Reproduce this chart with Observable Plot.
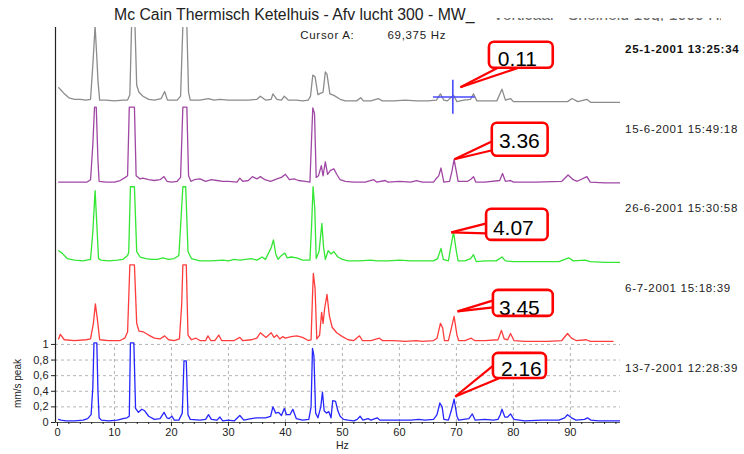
<!DOCTYPE html>
<html><head><meta charset="utf-8">
<script src="https://cdn.jsdelivr.net/npm/d3@7"></script>
<script src="https://cdn.jsdelivr.net/npm/@observablehq/plot@0.6"></script>
<style>
body{margin:0;background:#fff;font-family:"Liberation Sans",Arial,sans-serif;}
#head{position:relative;height:22px;width:744px;overflow:visible;}
#title{position:absolute;left:114px;top:7px;font-size:15.8px;line-height:16px;color:#222;white-space:nowrap;}
#ghost{position:absolute;left:493px;top:18px;height:3px;width:228px;overflow:hidden;}
#ghost span{display:block;margin-top:-11px;font-size:15.8px;line-height:16px;color:#666;white-space:nowrap;}
#chart svg{display:block;}
</style></head>
<body>
<div id="head"><div id="title">Mc Cain Thermisch Ketelhuis - Afv lucht 300 - MW_</div><div id="ghost"><span>Verticaal - Snelheid 10q, 1000 Hz</span></div></div>
<div id="chart"></div>
<script>
// ---------- data (Hz, mm/s peak) ----------
const dates = ["25-1-2001 13:25:34","15-6-2001 15:49:18","26-6-2001 15:30:58","6-7-2001 15:18:39","13-7-2001 12:28:39"];
const calloutLabels = ["0.11","3.36","4.07","3.45","2.16"];
const cursorHz = 69.375;
const xTicks = [0,10,20,30,40,50,60,70,80,90];
const xMinorTicks = [2,4,6,8,12,14,16,18,22,24,26,28,32,34,36,38,42,44,46,48,52,54,56,58,62,64,66,68,72,74,76,78,82,84,86,88,92,94,96,98];
const yTicks = [0,0.2,0.4,0.6,0.8,1];

const trace25jan = [[0.2,0.21],[0.6,0.18],[1.2,0.13],[2,0.08],[3,0.06],[4,0.06],[5,0.05],[5.8,0.06],[6.2,0.5],[6.6,1.0],[6.9,0.6],[7.1,0.3],[7.4,0.05],[8.5,0.05],[10,0.04],[11.5,0.05],[12.3,0.05],[12.7,0.12],[13.0,1.0],[13.6,1.0],[13.9,0.24],[14.3,0.15],[15,0.1],[16,0.06],[17,0.05],[18.2,0.07],[18.8,0.16],[19.3,0.05],[20,0.05],[21,0.05],[21.6,0.1],[22.0,1.0],[22.7,1.0],[23.0,0.15],[23.3,0.05],[25,0.05],[26.5,0.07],[27.5,0.05],[28.5,0.06],[30,0.05],[32,0.05],[33.5,0.05],[35,0.06],[35.6,0.1],[36.5,0.05],[37.5,0.06],[37.8,0.13],[38.5,0.06],[39.3,0.05],[39.8,0.1],[40.5,0.05],[42,0.05],[43,0.04],[44,0.05],[44.4,0.1],[44.8,0.37],[45.2,0.35],[45.7,0.12],[46.2,0.14],[46.6,0.15],[47.0,0.41],[47.3,0.38],[47.8,0.13],[48.5,0.11],[49.6,0.06],[50.5,0.04],[52.5,0.04],[53.2,0.08],[53.7,0.04],[55,0.04],[56.3,0.07],[57,0.04],[59,0.04],[61,0.05],[63,0.04],[65,0.04],[66.5,0.05],[67.2,0.13],[67.8,0.05],[68.4,0.04],[69.0,0.08],[69.5,0.11],[70.1,0.03],[71.3,0.05],[72.5,0.06],[73.0,0.13],[73.6,0.04],[75,0.04],[77.1,0.04],[78.0,0.19],[78.6,0.05],[79.5,0.07],[80,0.03],[82,0.03],[86,0.03],[89.5,0.03],[90.3,0.07],[91.3,0.03],[92.9,0.06],[93.6,0.02],[96,0.02],[98.8,0.02]];

const trace15jun = [[0.2,0.02],[2,0.02],[4,0.02],[5.2,0.02],[5.8,0.05],[6.2,0.5],[6.5,0.98],[6.8,0.98],[7.1,0.3],[7.3,0.03],[8.5,0.02],[10,0.02],[11,0.04],[11.9,0.08],[12.3,0.1],[12.6,0.98],[13.5,0.98],[13.8,0.1],[14.5,0.06],[15,0.07],[16,0.05],[17,0.04],[18,0.05],[18.7,0.09],[19.2,0.03],[20,0.02],[21,0.03],[21.6,0.08],[22.0,0.98],[22.7,0.98],[23.0,0.1],[23.4,0.03],[24,0.05],[25,0.06],[26,0.03],[27,0.05],[28,0.04],[29,0.03],[30,0.03],[31.5,0.02],[32,0.07],[32.5,0.03],[33.5,0.04],[34.2,0.09],[35,0.06],[35.6,0.09],[36.4,0.05],[37.4,0.03],[38.5,0.06],[39.3,0.08],[40.0,0.12],[40.7,0.05],[41.5,0.06],[42.3,0.04],[43.5,0.03],[44.3,0.02],[44.6,0.6],[44.8,0.97],[45.1,0.9],[45.4,0.08],[45.8,0.1],[46.3,0.23],[46.6,0.1],[47.0,0.28],[47.4,0.12],[47.9,0.17],[48.5,0.19],[49.0,0.12],[49.6,0.05],[50.5,0.03],[52,0.02],[54,0.02],[55.5,0.05],[56,0.02],[57.5,0.04],[58,0.02],[60,0.03],[62,0.02],[63,0.04],[64,0.02],[66,0.02],[66.4,0.06],[66.9,0.1],[67.3,0.2],[67.8,0.02],[68.8,0.03],[69.2,0.15],[69.6,0.31],[70.0,0.15],[70.3,0.03],[72,0.03],[72.6,0.06],[73.0,0.09],[73.4,0.02],[75,0.02],[77.6,0.04],[78.1,0.13],[78.6,0.03],[79.5,0.04],[80,0.02],[84,0.02],[88.5,0.03],[89.6,0.11],[90.5,0.05],[91.2,0.03],[92.9,0.09],[93.5,0.02],[96,0.01],[98.8,0.01]];

const trace26jun = [[0.2,0.16],[0.8,0.13],[1.7,0.06],[3,0.04],[4.5,0.03],[5.8,0.05],[6.2,0.4],[6.6,0.93],[6.9,0.5],[7.2,0.06],[7.6,0.04],[9,0.03],[10.5,0.04],[11.5,0.05],[12.3,0.1],[12.5,0.14],[12.8,0.98],[13.5,0.98],[13.9,0.15],[14.5,0.08],[15.5,0.06],[16.5,0.05],[17.5,0.05],[18.5,0.07],[19.5,0.05],[20.5,0.06],[21.3,0.1],[21.7,0.6],[22.0,0.98],[22.5,0.98],[22.9,0.15],[23.5,0.06],[25,0.03],[27,0.03],[29,0.04],[30,0.03],[31,0.05],[32,0.04],[33,0.05],[34,0.06],[35,0.04],[35.9,0.08],[36.5,0.05],[37.5,0.2],[37.9,0.3],[38.3,0.12],[38.7,0.05],[39.3,0.1],[39.9,0.13],[40.3,0.07],[41,0.08],[42,0.07],[43,0.04],[44.3,0.04],[44.6,0.5],[44.85,0.98],[45.15,0.7],[45.4,0.06],[45.9,0.15],[46.4,0.51],[46.7,0.2],[47.0,0.05],[47.5,0.16],[48,0.12],[48.5,0.15],[49.2,0.08],[50,0.05],[51,0.03],[53,0.03],[55,0.04],[56,0.03],[58,0.03],[60,0.04],[62,0.03],[64,0.03],[66,0.03],[66.7,0.06],[67.3,0.19],[67.7,0.05],[68.6,0.03],[69.0,0.2],[69.5,0.4],[70.0,0.15],[70.3,0.03],[71.5,0.03],[72.5,0.06],[73.0,0.11],[73.5,0.02],[75,0.03],[77,0.03],[78.0,0.08],[78.6,0.03],[80,0.02],[84,0.02],[88,0.02],[89.7,0.07],[90.5,0.03],[92.6,0.04],[93.5,0.02],[96,0.01],[98.8,0.01]];

const trace6jul = [[0.2,0.05],[0.5,0.11],[1.2,0.04],[3,0.03],[5,0.04],[5.8,0.05],[6.3,0.25],[6.65,0.5],[7.0,0.3],[7.4,0.04],[9,0.03],[11,0.03],[11.8,0.06],[12.3,0.14],[12.7,1.0],[13.5,1.0],[13.9,0.25],[14.3,0.15],[15.1,0.14],[16,0.1],[17,0.06],[18,0.05],[18.8,0.09],[19.5,0.04],[20.5,0.03],[21.4,0.05],[21.8,0.5],[22.0,1.0],[22.6,1.0],[22.9,0.1],[23.5,0.04],[24.3,0.06],[25,0.03],[26,0.03],[26.4,0.09],[26.9,0.03],[27.6,0.03],[28.3,0.1],[28.8,0.03],[31,0.03],[32,0.07],[32.5,0.03],[34,0.04],[35,0.06],[35.6,0.13],[36.6,0.07],[37.5,0.13],[38,0.07],[38.5,0.1],[39,0.05],[39.5,0.08],[40,0.06],[41,0.08],[42,0.09],[43,0.07],[44,0.03],[44.5,0.04],[44.75,0.6],[44.9,0.89],[45.2,0.7],[45.5,0.05],[46.0,0.1],[46.35,0.39],[46.6,0.25],[46.9,0.45],[47.3,0.62],[47.7,0.35],[48.2,0.2],[49,0.13],[50,0.08],[51,0.04],[52,0.03],[53,0.09],[53.5,0.03],[55,0.03],[56.5,0.06],[57,0.03],[59,0.03],[61,0.02],[63,0.03],[64,0.02],[66,0.03],[66.6,0.06],[67.2,0.25],[67.6,0.19],[67.9,0.03],[68.6,0.03],[69.0,0.15],[69.6,0.34],[70.1,0.1],[70.4,0.03],[71.5,0.03],[72.6,0.06],[73.2,0.03],[75,0.03],[77.3,0.04],[77.9,0.16],[78.4,0.05],[79,0.04],[79.5,0.12],[80.1,0.03],[82,0.02],[86,0.02],[88.5,0.03],[89.5,0.12],[90.2,0.06],[91,0.03],[92.8,0.04],[93.5,0.02],[95,0.02],[97.5,0.02]];

const trace13jul = [[0.2,0.04],[0.6,0.03],[1.5,0.02],[3,0.02],[4.5,0.03],[5.3,0.05],[5.9,0.1],[6.2,0.45],[6.4,1.02],[6.9,1.02],[7.1,0.4],[7.3,0.06],[7.7,0.03],[9,0.02],[10.5,0.03],[11.5,0.05],[12.2,0.06],[12.6,0.08],[12.8,1.02],[13.4,1.02],[13.7,0.18],[14.2,0.13],[14.8,0.17],[15.3,0.15],[16,0.08],[17,0.04],[18,0.05],[18.7,0.13],[19.2,0.06],[19.6,0.05],[20.1,0.08],[20.5,0.03],[21.3,0.03],[21.9,0.12],[22.2,0.79],[22.6,0.79],[22.9,0.1],[23.3,0.04],[25,0.03],[26,0.04],[26.5,0.1],[27,0.04],[28,0.03],[28.5,0.07],[29,0.02],[30,0.03],[31,0.02],[32,0.09],[32.7,0.03],[34,0.05],[35,0.06],[36.5,0.06],[37.4,0.08],[37.8,0.2],[38.3,0.12],[38.8,0.13],[39.3,0.09],[39.8,0.18],[40.2,0.1],[40.8,0.1],[41.3,0.17],[41.9,0.05],[43,0.03],[44.1,0.04],[44.5,0.2],[44.75,0.95],[45.0,0.85],[45.3,0.12],[45.7,0.06],[46.2,0.2],[46.5,0.39],[46.8,0.15],[47.2,0.12],[47.6,0.14],[48,0.06],[48.3,0.28],[48.8,0.27],[49.2,0.15],[49.6,0.08],[50.2,0.04],[51,0.03],[52,0.02],[52.6,0.04],[53.1,0.08],[53.6,0.03],[54.5,0.05],[55,0.03],[56.1,0.06],[56.6,0.03],[58,0.03],[60,0.03],[62,0.03],[63.4,0.04],[64.5,0.03],[66,0.04],[66.6,0.1],[67.1,0.25],[67.5,0.2],[67.8,0.04],[68.6,0.03],[69.1,0.15],[69.6,0.3],[70.1,0.08],[70.4,0.03],[71.3,0.04],[72.2,0.05],[72.8,0.11],[73.3,0.03],[75,0.04],[76.5,0.03],[77.3,0.04],[77.7,0.1],[78.0,0.17],[78.5,0.07],[79,0.07],[79.5,0.11],[80.1,0.04],[82,0.02],[85,0.03],[88,0.03],[89,0.06],[89.5,0.1],[90.2,0.06],[91,0.03],[92.5,0.04],[93,0.06],[93.6,0.03],[95,0.02],[98.8,0.02]];

// ---------- layout ----------
const traces = [trace25jan, trace15jun, trace26jun, trace6jul, trace13jul];
const colors = ["#8c8c8c", "#a047a4", "#33e633", "#ff3c3c", "#2626ff"];
const step = 1.02; // waterfall offset per trace (y units)
const offsets = traces.map((_, i) => (traces.length - 1 - i) * step);
const xDomain = [-0.35, 98.8];
const yDomain = [0, 5.06];

// callout geometry, relative to each trace's offset
const callouts = [
  {box:[75.8,87.0,0.458,0.792], text:[80.7,0.575], tip:[70.7,0.215], base:[[77.2,0.46],[80.7,0.46]]},
  {box:[76.3,86.1,0.350,0.773], text:[81.05,0.545], tip:[69.65,0.312], base:[[76.3,0.543],[76.3,0.427]]},
  {box:[75.3,86.1,0.293,0.691], text:[80.0,0.453], tip:[69.1,0.396], base:[[75.3,0.511],[75.3,0.383]]},
  {box:[76.5,87.0,0.339,0.672], text:[81.05,0.447], tip:[70.2,0.403], base:[[76.5,0.544],[76.5,0.454]]},
  {box:[76.5,85.8,0.564,0.885], text:[81.4,0.677], tip:[69.8,0.333], base:[[76.3,0.718],[77.4,0.564]]}
].map((c, i) => ({...c, off: offsets[i], label: calloutLabels[i]}));

const boxes = callouts.map(c => ({x1:c.box[0], x2:c.box[1], y1:c.off+c.box[2], y2:c.off+c.box[3]}));
const texts = callouts.map(c => ({x:c.text[0], y:c.off+c.text[1], label:c.label}));
const pointers = callouts.flatMap(c => c.base.map(b => ({x1:c.tip[0], y1:c.off+c.tip[1], x2:b[0], y2:c.off+b[1]})));
const dateRows = dates.map((d, i) => ({d, y: offsets[i] + 0.7, bold: i === 0}));
const cursorY = offsets[0] + 0.09;

const fmtComma = d => String(d).replace(".", ",");
const cursorLabel = fmtComma(cursorHz) + " Hz";

const marks = [
  Plot.ruleY(yTicks.filter(d => d > 0), {stroke:"#b4b4b4", strokeDasharray:"3,3", strokeWidth:1}),
  Plot.ruleX(xTicks.filter(d => d > 0), {y1:0, y2:1, stroke:"#b4b4b4", strokeDasharray:"3,3", strokeWidth:1}),
  Plot.ruleY([0], {stroke:"#555"}),
  Plot.ruleX([xDomain[0]], {stroke:"#222", strokeWidth:1.2}),
  Plot.axisX({ticks:xTicks, tickSize:4, tickPadding:2, fontSize:11, label:null, tickFormat:d => String(d)}),
  Plot.axisX({ticks:xMinorTicks, tickSize:2, tickFormat:() => "", label:null}),
  Plot.axisY({ticks:yTicks, tickSize:4, tickPadding:3, fontSize:11, label:null, tickFormat:fmtComma}),
  Plot.text(["Hz"], {x:50, frameAnchor:"bottom", dy:26, fontSize:10.5, fill:"#222"}),
  Plot.text(["mm/s peak"], {x:xDomain[0], y:0.5, dx:-38, rotate:-90, fontSize:10, fill:"#222"})
];

traces.forEach((t, i) => {
  const rows = t.map(([hz, v]) => ({hz, y: offsets[i] + v}));
  marks.push(Plot.line(rows, {x:"hz", y:"y", stroke:colors[i], strokeWidth:1.3, clip:true, strokeLinejoin:"round"}));
});

marks.push(
  // cursor cross
  Plot.ruleX([cursorHz], {y1:cursorY - 0.22, y2:cursorY + 0.215, stroke:"#4848ff", strokeWidth:1.6}),
  Plot.ruleY([cursorY], {x1:cursorHz - 3.4, x2:cursorHz + 3.95, stroke:"#4848ff", strokeWidth:1.6}),
  Plot.text(["Cursor A:"], {x:42.6, y:4.96, textAnchor:"start", fontSize:11.5, fill:"#222"}),
  Plot.text([cursorLabel], {x:57.9, y:4.96, textAnchor:"start", fontSize:11.5, fill:"#222"}),
  // dates
  Plot.text(dateRows.filter(d => d.bold), {x:() => 99.6, y:"y", text:"d", textAnchor:"start", fontSize:11.5, fontWeight:"bold", fill:"#111"}),
  Plot.text(dateRows.filter(d => !d.bold), {x:() => 99.6, y:"y", text:"d", textAnchor:"start", fontSize:11.5, fill:"#222"}),
  // callouts
  Plot.link(pointers, {x1:"x1", y1:"y1", x2:"x2", y2:"y2", stroke:"#ff0000", strokeWidth:2.2}),
  Plot.rect(boxes, {x1:"x1", x2:"x2", y1:"y1", y2:"y2", fill:"white", rx:5}),
  Plot.text(texts, {x:"x", y:"y", text:"label", fontSize:21, fill:"#000"}),
  Plot.rect(boxes, {x1:"x1", x2:"x2", y1:"y1", y2:"y2", fill:"none", stroke:"#ff0000", strokeWidth:2.6, rx:5})
);

const chart = Plot.plot({
  width: 744,
  height: 432,
  marginLeft: 55,
  marginRight: 124,
  marginTop: 5,
  marginBottom: 32,
  x: {domain: xDomain},
  y: {domain: yDomain},
  style: {fontFamily: "'Liberation Sans', Arial, sans-serif", fontSize: "11px", color: "#222", background: "white", overflow: "visible"},
  marks
});
// the original uses a wider UI font: widen these labels slightly
const wide = new Set([...dates, "Cursor A:", cursorLabel]);
d3.select(chart).selectAll("text").filter(function() { return wide.has(this.textContent); }).style("letter-spacing", "0.7px");
document.getElementById("chart").appendChild(chart);
</script>
</body></html>
